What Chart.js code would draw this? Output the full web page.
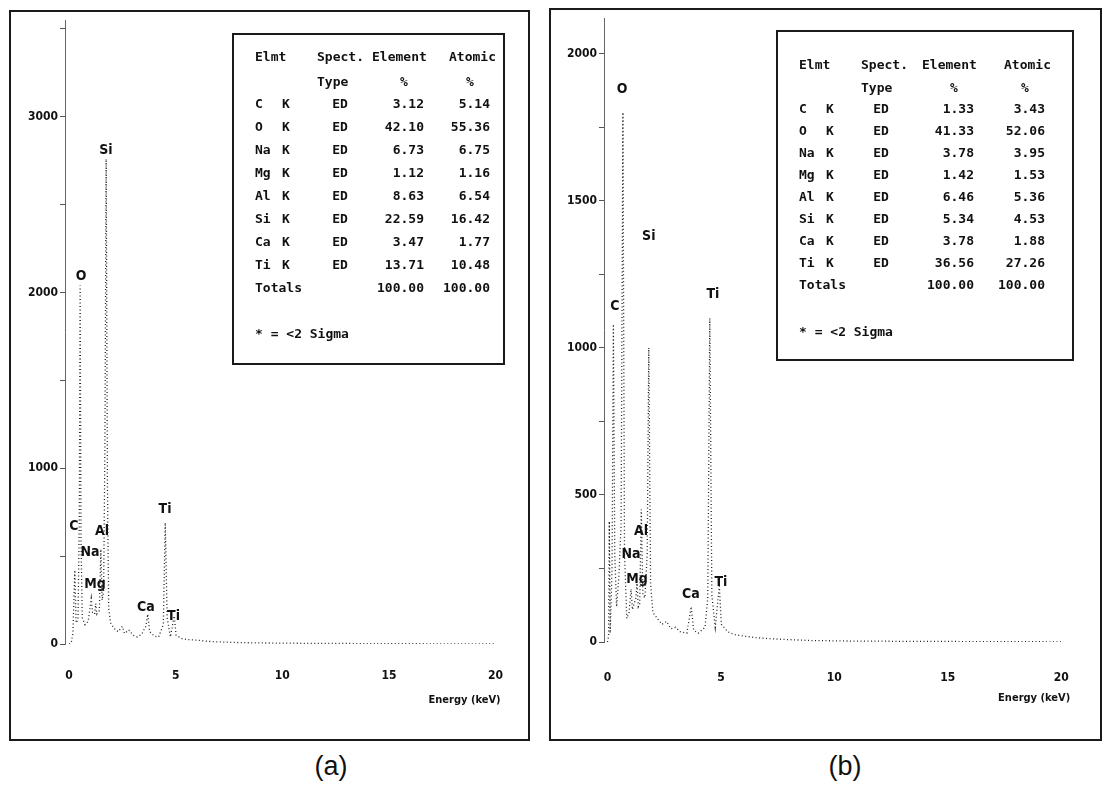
<!DOCTYPE html>
<html>
<head>
<meta charset="utf-8">
<script src="https://cdn.jsdelivr.net/npm/chart.js@4.4.1/dist/chart.umd.min.js"></script>
<style>
  body { margin: 0; width: 1105px; height: 788px; background: #fff; position: relative; overflow: hidden; font-family: "Liberation Sans", Arial, sans-serif; }
  .painel { position: absolute; border: 2px solid #1a1a1a; box-sizing: border-box; }
  canvas.grafico { position: absolute; }
  .tabela { position: absolute; border: 2px solid #1a1a1a; box-sizing: border-box; font: bold 13px "DejaVu Sans Mono", monospace; color: #111; }
  .tabela span { position: absolute; white-space: pre; line-height: 16px; }
  .legenda { position: absolute; font-size: 27px; color: #111; transform: translate(-50%, -50%); }
</style>
</head>
<body>
<div class="painel" style="left:9px; top:10px; width:521px; height:731px;"></div>
<div class="painel" style="left:549px; top:8px; width:553px; height:733px;"></div>

<canvas id="graficoA" class="grafico" style="left:9px; top:11px;" width="520" height="729"></canvas>
<canvas id="graficoB" class="grafico" style="left:549px; top:9px;" width="551" height="731"></canvas>

<div id="tabelaA" class="tabela" style="left:232px; top:33px; width:273px; height:332px;"></div>
<div id="tabelaB" class="tabela" style="left:776px; top:30px; width:298px; height:331px;"></div>

<div class="legenda" style="left:331px; top:766px;">(a)</div>
<div class="legenda" style="left:845px; top:766px;">(b)</div>

<script>
// Espectro (a) - energia em keV e contagens
const energiaA = [0.0, 0.1, 0.18, 0.27, 0.33, 0.42, 0.48, 0.52, 0.56, 0.62, 0.75, 0.9, 1.04, 1.1, 1.2, 1.25, 1.3, 1.42, 1.49, 1.55, 1.62, 1.68, 1.74, 1.8, 1.86, 1.95, 2.1, 2.3, 2.5, 2.6, 2.8, 3.0, 3.2, 3.4, 3.6, 3.69, 3.78, 4.0, 4.2, 4.42, 4.51, 4.6, 4.75, 4.93, 5.02, 5.3, 5.6, 6.0, 6.5, 7, 8, 9, 10, 11, 12, 13, 14, 15, 16, 17, 18, 19, 20];
const contagensA = [0, 5, 60, 420, 120, 140, 700, 2040, 600, 150, 110, 130, 260, 180, 170, 230, 170, 190, 540, 250, 300, 1100, 2760, 900, 200, 120, 90, 70, 100, 60, 80, 50, 40, 55, 100, 170, 70, 45, 40, 110, 690, 150, 40, 160, 50, 30, 25, 22, 15, 12, 8, 6, 5, 4, 3, 3, 2, 2, 2, 1, 1, 1, 0];

// Espectro (b)
const energiaB = [0.0, 0.05, 0.08, 0.12, 0.2, 0.26, 0.32, 0.4, 0.5, 0.6, 0.68, 0.75, 0.85, 0.95, 1.04, 1.1, 1.25, 1.3, 1.36, 1.42, 1.49, 1.56, 1.65, 1.75, 1.82, 1.9, 2.0, 2.2, 2.4, 2.6, 2.8, 3.0, 3.2, 3.5, 3.69, 3.8, 4.0, 4.3, 4.42, 4.51, 4.6, 4.75, 4.93, 5.02, 5.3, 5.6, 6.0, 6.5, 7, 8, 9, 10, 11, 12, 13, 14, 15, 16, 17, 18, 19, 20];
const contagensB = [0, 20, 410, 30, 250, 1080, 300, 120, 220, 400, 1800, 300, 80, 100, 180, 110, 150, 200, 120, 130, 450, 160, 150, 300, 1000, 200, 100, 80, 60, 70, 45, 50, 35, 30, 120, 40, 30, 50, 150, 1100, 160, 50, 190, 60, 35, 25, 20, 15, 12, 8, 5, 4, 3, 3, 2, 2, 2, 1, 1, 1, 1, 0];

// Rótulos dos picos (posição em keV / contagens)
const picosA = ["C", "O", "Na", "Mg", "Al", "Si", "Ca", "Ti", "Ti"];
const picosKevA = [0.23, 0.56, 0.98, 1.22, 1.55, 1.73, 3.6, 4.5, 4.9];
const picosCtsA = [672, 2095, 524, 341, 643, 2811, 210, 768, 160];

const picosB = ["C", "O", "Na", "Mg", "Al", "Si", "Ca", "Ti", "Ti"];
const picosKevB = [0.33, 0.64, 1.04, 1.3, 1.48, 1.82, 3.68, 4.65, 5.0];
const picosCtsB = [1139, 1878, 297, 213, 375, 1378, 162, 1182, 203];

const ticksX = [0, 5, 10, 15, 20];
const ticksYA = [0, 500, 1000, 1500, 2000, 2500, 3000, 3500];
const ticksYB = [0, 250, 500, 750, 1000, 1250, 1500, 1750, 2000];

// Tabelas de quantificação
const elementos = ["C", "O", "Na", "Mg", "Al", "Si", "Ca", "Ti"];
const pesoA = ["3.12", "42.10", "6.73", "1.12", "8.63", "22.59", "3.47", "13.71"];
const atomicoA = ["5.14", "55.36", "6.75", "1.16", "6.54", "16.42", "1.77", "10.48"];
const pesoB = ["1.33", "41.33", "3.78", "1.42", "6.46", "5.34", "3.78", "36.56"];
const atomicoB = ["3.43", "52.06", "3.95", "1.53", "5.36", "4.53", "1.88", "27.26"];

const fonteEixo = { family: '"DejaVu Sans Condensed", "Liberation Sans", sans-serif', size: 12, weight: "bold" };

// Plugin para nomes dos picos e título do eixo
const rotulosPlugin = {
  id: "rotulos",
  afterDatasetsDraw(chart, args, opts) {
    const ctx = chart.ctx;
    const xs = chart.scales.x, ys = chart.scales.y;
    ctx.save();
    ctx.fillStyle = "#111";
    ctx.font = 'bold 14px "Liberation Sans Narrow", "DejaVu Sans Condensed", sans-serif';
    ctx.textAlign = "center";
    ctx.textBaseline = "middle";
    opts.nomes.forEach((n, i) => {
      ctx.fillText(n, xs.getPixelForValue(opts.kev[i]), ys.getPixelForValue(opts.cts[i]));
    });
    ctx.font = 'bold 11px "DejaVu Sans Condensed", sans-serif';
    ctx.textAlign = "right";
    ctx.fillText("Energy (keV)", xs.getPixelForValue(20) + opts.dxTitulo, chart.chartArea.bottom + opts.dyTitulo);
    ctx.restore();
  }
};

const criaGrafico = (id, energia, contagens, cfg) => {
  new Chart(document.getElementById(id), {
    type: "scatter",
    data: {
      datasets: [{
        data: energia.map((e, i) => ({ x: e, y: contagens[i] })),
        showLine: true,
        borderColor: "#222",
        borderWidth: 1.3,
        borderDash: [1, 2.5],
        pointRadius: 0,
        tension: 0
      }]
    },
    options: {
      responsive: false,
      animation: false,
      layout: { padding: { left: 0, top: cfg.topo, right: cfg.direita, bottom: 0 } },
      plugins: {
        legend: { display: false },
        tooltip: { enabled: false },
        rotulos: { nomes: cfg.nomes, kev: cfg.kev, cts: cfg.cts, dxTitulo: cfg.dxTitulo, dyTitulo: 56 }
      },
      scales: {
        x: {
          type: "linear",
          min: cfg.xMin,
          max: 20.3,
          afterBuildTicks: (s) => { s.ticks = ticksX.map(v => ({ value: v })); },
          afterFit: (s) => { s.height = cfg.alturaX; },
          grid: { display: false, drawTicks: false },
          border: { display: false },
          ticks: { color: "#111", font: fonteEixo, padding: cfg.padX, maxRotation: 0 }
        },
        y: {
          min: 0,
          max: cfg.yMax,
          afterBuildTicks: (s) => { s.ticks = cfg.ticksY.map(v => ({ value: v })); },
          afterFit: (s) => { s.width = cfg.larguraY; },
          grid: { drawOnChartArea: false, drawTicks: true, tickLength: 5, color: "#555" },
          border: { display: true, color: "#666", dash: [2, 3], width: 1 },
          ticks: {
            autoSkip: false,
            color: "#111",
            font: fonteEixo,
            padding: 2,
            callback: (v) => (v % cfg.rotuloCada === 0 ? v : "")
          }
        }
      }
    },
    plugins: [rotulosPlugin]
  });
};

criaGrafico("graficoA", energiaA, contagensA, {
  nomes: picosA, kev: picosKevA, cts: picosCtsA, ticksY: ticksYA,
  xMin: -0.19, yMax: 3550, rotuloCada: 1000,
  topo: 9, direita: 27, larguraY: 56, alturaX: 96, padX: 25, dxTitulo: 5
});

criaGrafico("graficoB", energiaB, contagensB, {
  nomes: picosB, kev: picosKevB, cts: picosCtsB, ticksY: ticksYB,
  xMin: -0.154, yMax: 2120, rotuloCada: 500,
  topo: 6, direita: 32, larguraY: 55, alturaX: 98, padX: 29, dxTitulo: 9
});

// Monta as tabelas
const montaTabela = (id, peso, atomico, col, linhas) => {
  const caixa = document.getElementById(id);
  const largura = caixa.clientWidth;
  const add = (txt, x, y, modo) => {
    const s = document.createElement("span");
    s.textContent = txt;
    s.style.top = (y - 8) + "px";
    if (modo === "dir") s.style.right = (largura - x) + "px";
    else if (modo === "centro") { s.style.left = x + "px"; s.style.transform = "translateX(-50%)"; }
    else s.style.left = x + "px";
    caixa.appendChild(s);
  };
  add("Elmt", col.elmt, linhas.cab);
  add("Spect.", col.spect, linhas.cab);
  add("Element", col.elem, linhas.cab);
  add("Atomic", col.atom, linhas.cab);
  add("Type", col.spect, linhas.tipo);
  add("%", col.elemDir - 20, linhas.tipo, "centro");
  add("%", col.atomDir - 20, linhas.tipo, "centro");
  elementos.forEach((el, i) => {
    const y = linhas.primeira + i * linhas.passo;
    add(el, col.elmt, y);
    add("K", col.camada, y);
    add("ED", col.ed, y, "centro");
    add(peso[i], col.elemDir, y, "dir");
    add(atomico[i], col.atomDir, y, "dir");
  });
  const yTotal = linhas.primeira + elementos.length * linhas.passo;
  add("Totals", col.elmt, yTotal);
  add("100.00", col.elemDir, yTotal, "dir");
  add("100.00", col.atomDir, yTotal, "dir");
  add("* = <2 Sigma", col.elmt, linhas.nota);
};

montaTabela("tabelaA", pesoA, atomicoA,
  { elmt: 21, camada: 48, spect: 83, ed: 106, elem: 138, elemDir: 190, atom: 215, atomDir: 256 },
  { cab: 22, tipo: 47, primeira: 69, passo: 23, nota: 299 });

montaTabela("tabelaB", pesoB, atomicoB,
  { elmt: 21, camada: 48, spect: 83, ed: 103, elem: 144, elemDir: 196, atom: 226, atomDir: 267 },
  { cab: 33, tipo: 56, primeira: 77, passo: 22, nota: 300 });
</script>
</body>
</html>
